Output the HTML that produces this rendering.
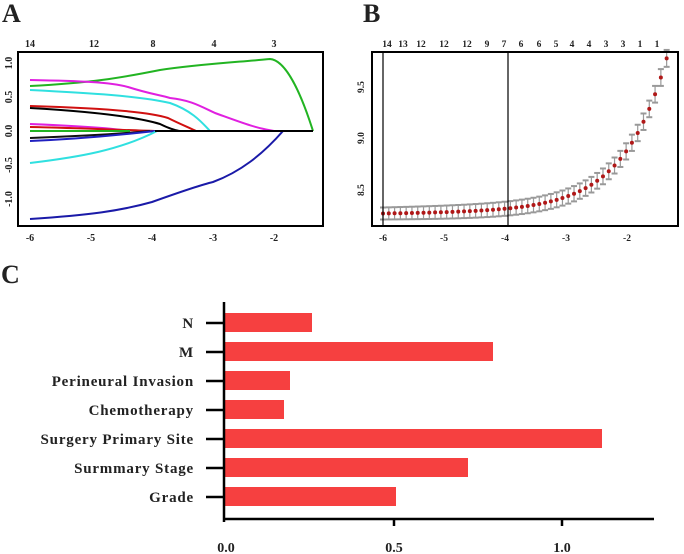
<!DOCTYPE html>
<html><head><meta charset="utf-8"><style>
body{margin:0;background:#fff;width:684px;height:554px;overflow:hidden}
svg{display:block}
text{font-family:"Liberation Serif",serif;font-weight:bold;fill:#222}
</style></head><body>
<svg id="s" width="684" height="554" viewBox="0 0 684 554">
<text x="2" y="22" font-size="26">A</text>
<text x="363" y="22" font-size="26">B</text>
<text x="1" y="283" font-size="26">C</text>
<!-- Panel A -->
<g font-size="10">
<text x="30" y="47" text-anchor="middle">14</text>
<text x="94" y="47" text-anchor="middle">12</text>
<text x="153" y="47" text-anchor="middle">8</text>
<text x="214" y="47" text-anchor="middle">4</text>
<text x="274" y="47" text-anchor="middle">3</text>
<text x="30" y="241" text-anchor="middle">-6</text>
<text x="91" y="241" text-anchor="middle">-5</text>
<text x="152" y="241" text-anchor="middle">-4</text>
<text x="213" y="241" text-anchor="middle">-3</text>
<text x="274" y="241" text-anchor="middle">-2</text>
<text transform="translate(12,63) rotate(-90)" text-anchor="middle">1.0</text>
<text transform="translate(12,97) rotate(-90)" text-anchor="middle">0.5</text>
<text transform="translate(12,131) rotate(-90)" text-anchor="middle">0.0</text>
<text transform="translate(12,165) rotate(-90)" text-anchor="middle">-0.5</text>
<text transform="translate(12,199) rotate(-90)" text-anchor="middle">-1.0</text>
</g>
<g fill="none" stroke-width="2">
<path d="M30,86 C90,83 120,78 160,70 C200,64 240,62 270,59 C285,60 300,90 313,131" stroke="#22b422"/>
<path d="M30,80 C80,81 110,82 128,87 C150,94 160,95 170,98 C190,100 200,106 215,113 C240,122 255,128 274,131" stroke="#e020e0"/>
<path d="M30,90 C90,93 140,96 170,103 C190,110 200,120 210,131" stroke="#30e0e0"/>
<path d="M30,106 C100,108 150,112 168,118 C180,124 190,128 196,131" stroke="#d01010"/>
<path d="M30,108 C100,112 140,118 160,124 C170,129 178,131 180,131" stroke="#000"/>
<path d="M30,124 C80,126 110,128 130,131" stroke="#e020e0"/>
<path d="M30,127 C80,128 120,130 155,131" stroke="#d01010"/>
<path d="M30,131 L130,131" stroke="#22b422"/>
<path d="M30,138 C80,136 120,134 150,131" stroke="#111"/>
<path d="M30,141 C80,139 120,135 155,131" stroke="#2020c0"/>
<path d="M30,163 C80,157 120,150 157,131" stroke="#30e0e0"/>
<path d="M30,219 C90,215 120,211 152,202 C180,192 200,185 213,182 C240,172 262,155 283,131" stroke="#1a1aa8"/>
<path d="M155,131 L313,131" stroke="#000"/>
</g>
<rect x="18" y="52" width="305" height="174" fill="none" stroke="#000" stroke-width="2"/>
<!-- Panel B -->
<g font-size="9.5">
<text x="387" y="47" text-anchor="middle">14</text>
<text x="403" y="47" text-anchor="middle">13</text>
<text x="421" y="47" text-anchor="middle">12</text>
<text x="444" y="47" text-anchor="middle">12</text>
<text x="467" y="47" text-anchor="middle">12</text>
<text x="487" y="47" text-anchor="middle">9</text>
<text x="504" y="47" text-anchor="middle">7</text>
<text x="521" y="47" text-anchor="middle">6</text>
<text x="539" y="47" text-anchor="middle">6</text>
<text x="556" y="47" text-anchor="middle">5</text>
<text x="572" y="47" text-anchor="middle">4</text>
<text x="589" y="47" text-anchor="middle">4</text>
<text x="606" y="47" text-anchor="middle">3</text>
<text x="623" y="47" text-anchor="middle">3</text>
<text x="640" y="47" text-anchor="middle">1</text>
<text x="657" y="47" text-anchor="middle">1</text>
<text x="383" y="241" text-anchor="middle">-6</text>
<text x="444" y="241" text-anchor="middle">-5</text>
<text x="505" y="241" text-anchor="middle">-4</text>
<text x="566" y="241" text-anchor="middle">-3</text>
<text x="627" y="241" text-anchor="middle">-2</text>
<text transform="translate(364,87) rotate(-90)" text-anchor="middle">9.5</text>
<text transform="translate(364,138) rotate(-90)" text-anchor="middle">9.0</text>
<text transform="translate(364,190) rotate(-90)" text-anchor="middle">8.5</text>
</g>
<g id="bpts"></g>
<line x1="383" y1="52" x2="383" y2="226" stroke="#000" stroke-width="1.2"/>
<line x1="508" y1="52" x2="508" y2="226" stroke="#000" stroke-width="1.2"/>
<rect x="372" y="52" width="306" height="174" fill="none" stroke="#000" stroke-width="2"/>
<!-- Panel C -->
<g fill="#f64040">
<rect x="225" y="313" width="87" height="19"/>
<rect x="225" y="342" width="268" height="19"/>
<rect x="225" y="371" width="65" height="19"/>
<rect x="225" y="400" width="59" height="19"/>
<rect x="225" y="429" width="377" height="19"/>
<rect x="225" y="458" width="243" height="19"/>
<rect x="225" y="487" width="171" height="19"/>
</g>
<g stroke="#000" stroke-width="2.5">
<line x1="224" y1="302" x2="224" y2="522"/>
<line x1="223" y1="519" x2="654" y2="519"/>
<line x1="206" y1="323" x2="223" y2="323"/>
<line x1="206" y1="352" x2="223" y2="352"/>
<line x1="206" y1="381" x2="223" y2="381"/>
<line x1="206" y1="410" x2="223" y2="410"/>
<line x1="206" y1="439" x2="223" y2="439"/>
<line x1="206" y1="468" x2="223" y2="468"/>
<line x1="206" y1="497" x2="223" y2="497"/>
<line x1="394" y1="519" x2="394" y2="526"/>
<line x1="562" y1="519" x2="562" y2="526"/>
</g>
<g font-size="15" text-anchor="end" letter-spacing="0.8">
<text x="194" y="328">N</text>
<text x="194" y="357">M</text>
<text x="194" y="386">Perineural Invasion</text>
<text x="194" y="415">Chemotherapy</text>
<text x="194" y="444">Surgery Primary Site</text>
<text x="194" y="473">Surmmary Stage</text>
<text x="194" y="502">Grade</text>
</g>
<g font-size="14" text-anchor="middle">
<text x="226" y="552">0.0</text>
<text x="394" y="552">0.5</text>
<text x="562" y="552">1.0</text>
</g>
</svg>
<script>
var g=document.getElementById('bpts'),h='';
for(var i=0;i<50;i++){var l=-6+i*4.65/49;var v=8.265+0.0021*Math.exp(1.41*(l+6))+0.02*(l+6)/4.65*1.5;
var x=383+61*(l+6),y=138-103*(v-9),e=6+i*0.05;
h+='<line x1="'+x+'" y1="'+(y-e)+'" x2="'+x+'" y2="'+(y+e)+'" stroke="#999" stroke-width="1.2"/>';
h+='<line x1="'+(x-3)+'" y1="'+(y-e)+'" x2="'+(x+3)+'" y2="'+(y-e)+'" stroke="#999" stroke-width="2"/>';
h+='<line x1="'+(x-3)+'" y1="'+(y+e)+'" x2="'+(x+3)+'" y2="'+(y+e)+'" stroke="#999" stroke-width="2"/>';
h+='<circle cx="'+x+'" cy="'+y+'" r="2" fill="#b01818"/>';}
g.innerHTML=h;
</script>
</body></html>
